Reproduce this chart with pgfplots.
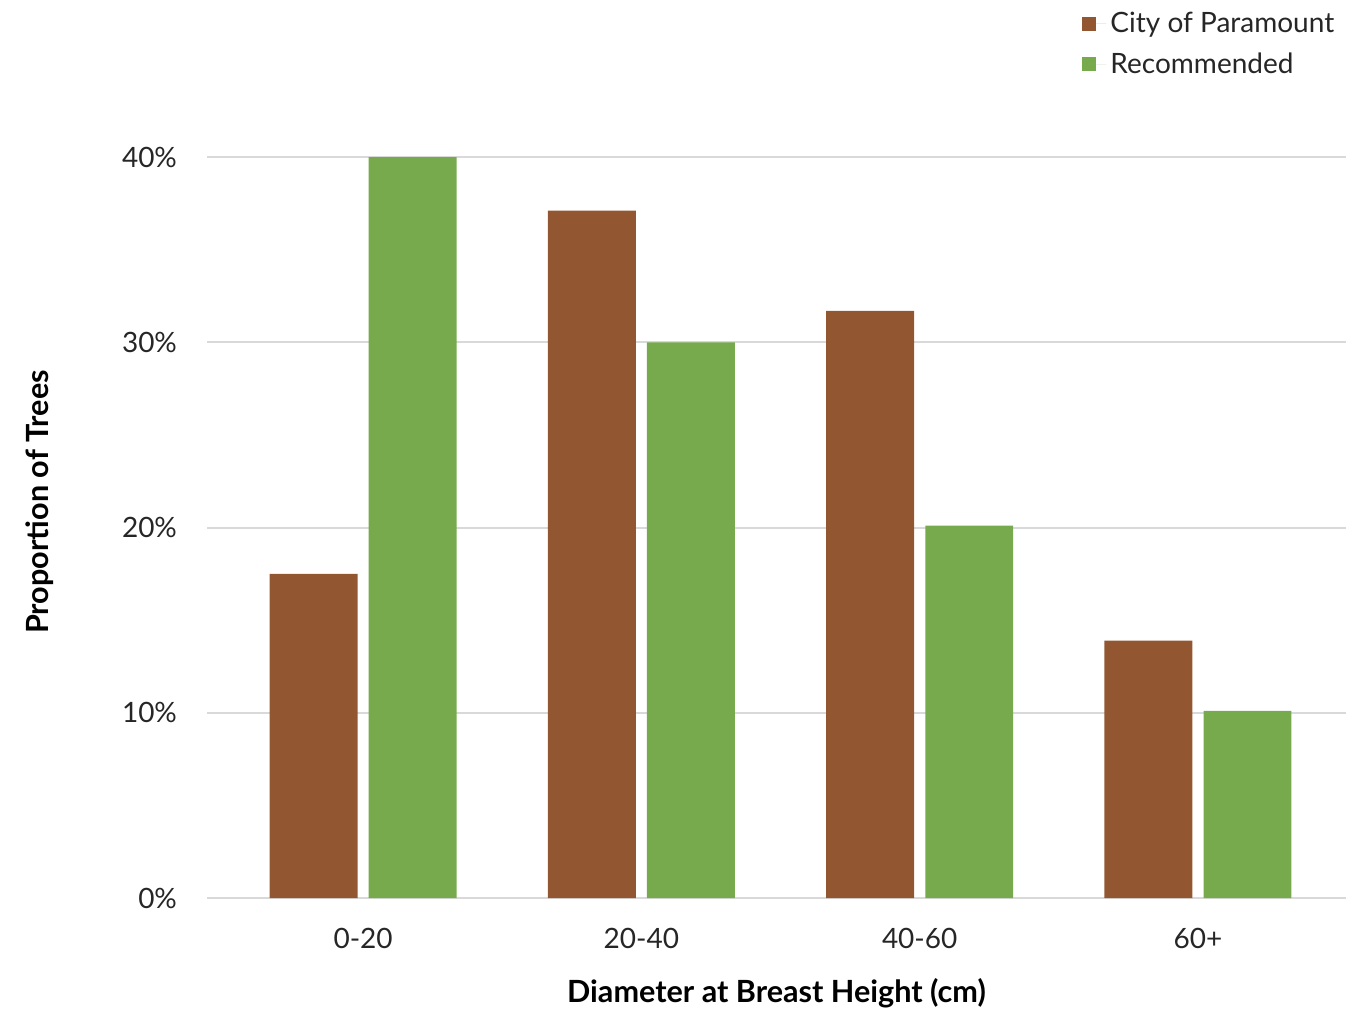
\documentclass[border=0pt]{standalone}
\usepackage{pgfplots}
\pgfplotsset{compat=1.18}
\usepackage{fontspec}
\setmainfont{Lato}
\definecolor{cbrown}{HTML}{925731}
\definecolor{cgreen}{HTML}{77AA4D}
\definecolor{cgrid}{HTML}{D9D9D9}
\definecolor{ctext}{HTML}{262626}
\begin{document}
\begin{tikzpicture}[x=1pt,y=1pt]
\useasboundingbox (0,0) rectangle (682.5,504.5);
\begin{axis}[
  at={(103.5pt,55.5pt)}, anchor=south west,
  scale only axis, width=569.5pt, height=370.5pt,
  xmin=-0.561, xmax=3.532, ymin=0, ymax=40,
  axis line style={draw=none},
  ytick={0,10,20,30,40},
  yticklabels={0\%,10\%,20\%,30\%,40\%},
  xtick={0,1,2,3},
  xticklabels={0-20,20-40,40-60,60+},
  major tick length=0pt,
  ymajorgrids, grid style={cgrid, line width=1pt},
  tick label style={font=\fontsize{14}{16}\selectfont, text=ctext},
  yticklabel style={xshift=-11.5pt},
  xticklabel style={yshift=-11.5pt},
  /pgf/number format/assume math mode=true,
  clip=false,
  legend style={at={(0.763,1.207)}, anchor=north west, draw=none, fill=none,
    font=\fontsize{14}{16}\selectfont, text=ctext, row sep=4.5pt},
  legend cell align=left,
  legend image code/.code={\path (0pt,0pt) -- (12pt,0pt); \fill[#1] (0pt,-3.5pt) rectangle (7pt,3.5pt);},
]
\addplot[ybar, bar width=0.316, bar shift=-0.178, fill=cbrown, draw=none] coordinates {(0,17.5) (1,37.1) (2,31.7) (3,13.9)};
\addlegendentry{City of Paramount}
\addplot[ybar, bar width=0.316, bar shift=0.178, fill=cgreen, draw=none] coordinates {(0,40) (1,30) (2,20.1) (3,10.1)};
\addlegendentry{Recommended}
\end{axis}
\node[font=\bfseries\fontsize{15.3}{18}\selectfont, text=black] at (388.25,8) {Diameter at Breast Height (cm)};
\node[font=\bfseries\fontsize{15.3}{18}\selectfont, text=black, rotate=90] at (20,253.5) {Proportion of Trees};
\end{tikzpicture}
\end{document}
